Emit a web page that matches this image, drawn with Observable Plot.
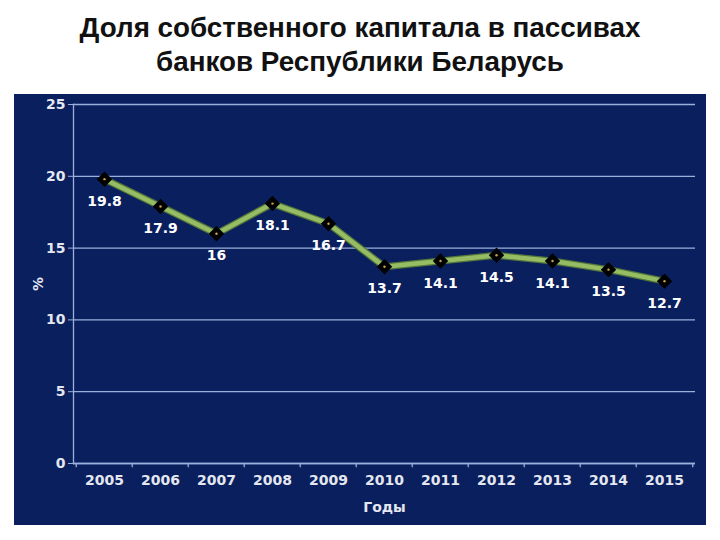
<!DOCTYPE html>
<html>
<head>
<meta charset="utf-8">
<script src="https://cdn.jsdelivr.net/npm/d3@7"></script>
<script src="https://cdn.jsdelivr.net/npm/@observablehq/plot@0.6"></script>
<style>
  html, body { margin: 0; padding: 0; background: #ffffff; width: 720px; height: 540px; overflow: hidden; }
  #title { height: 94px; box-sizing: border-box; padding-top: 11px; text-align: center;
    font-family: "Liberation Sans", Arial, sans-serif; font-weight: 700; font-size: 27.8px; line-height: 34px; color: #111; }
  #chart { margin-left: 14px; width: 692px; height: 431px; }
  #chart svg { display: block; }
</style>
</head>
<body>
<div id="title">Доля собственного капитала в пассивах<br>банков Республики Беларусь</div>
<div id="chart"></div>
<script>
const years = ["2005","2006","2007","2008","2009","2010","2011","2012","2013","2014","2015"];
const shares = [19.8, 17.9, 16, 18.1, 16.7, 13.7, 14.1, 14.5, 14.1, 13.5, 12.7];
const yTicks = [0, 5, 10, 15, 20, 25];
const valueLabels = ["19.8","17.9","16","18.1","16.7","13.7","14.1","14.5","14.1","13.5","12.7"];

const data = years.map((y, i) => ({year: y, value: shares[i], label: valueLabels[i]}));

const W = 692, H = 431;
const mL = 59, mR = 11, mT = 10, mB = 62;
const band = (W - mL - mR) / years.length;

const bg = "#0a1f5e";
const grid = "#9ab0dd";
const txt = "#e4e7ef";
const font = "DejaVu Sans, Verdana, sans-serif";

const chart = Plot.plot({
  width: W,
  height: H,
  marginLeft: mL, marginRight: mR, marginTop: mT, marginBottom: mB,
  style: {background: bg, color: txt, fontFamily: font, fontSize: "15px", fontWeight: "bold"},
  x: {type: "point", domain: years, padding: 0.5},
  y: {domain: [0, 25]},
  marks: [
    Plot.gridY(yTicks, {stroke: grid, strokeOpacity: 1, strokeWidth: 1.3}),
    Plot.ruleY([0], {stroke: grid, strokeWidth: 1.3}),
    Plot.frame({anchor: "left", stroke: grid, strokeWidth: 1.3}),
    Plot.ruleX(years, {x: d => d, dx: -band / 2, y1: 0, y2: -0.3, stroke: grid, strokeWidth: 1.3}),
    Plot.ruleX([years[years.length - 1]], {x: d => d, dx: band / 2, y1: 0, y2: -0.3, stroke: grid, strokeWidth: 1.3}),
    Plot.axisY(yTicks, {tickSize: 5, tickPadding: 3, stroke: grid, fill: txt, fontSize: 14, fontWeight: "bold",
      label: "%", labelAnchor: "center", labelArrow: "none", labelOffset: 40}),
    Plot.axisX(years, {tickSize: 0, tickPadding: 12, fill: txt, fontSize: 14, fontWeight: "bold",
      label: "Годы", labelAnchor: "center", labelArrow: "none", labelOffset: 48}),
    Plot.line(data, {x: "year", y: "value", stroke: "#55773a", strokeWidth: 7, strokeLinejoin: "round"}),
    Plot.line(data, {x: "year", y: "value", stroke: "#96bd64", strokeWidth: 4.5, strokeLinejoin: "round"}),
    Plot.dot(data, {x: "year", y: "value", symbol: "diamond2", r: 6, fill: "#000000", stroke: "#000000", strokeWidth: 1.5}),
    Plot.dot(data, {x: "year", y: "value", r: 1.2, fill: "#c9a34a"}),
    Plot.text(data, {x: "year", y: "value", text: "label", dy: 22, fill: "#ffffff", fontSize: 14, fontWeight: "bold"})
  ]
});
document.getElementById("chart").appendChild(chart);
</script>
</body>
</html>
